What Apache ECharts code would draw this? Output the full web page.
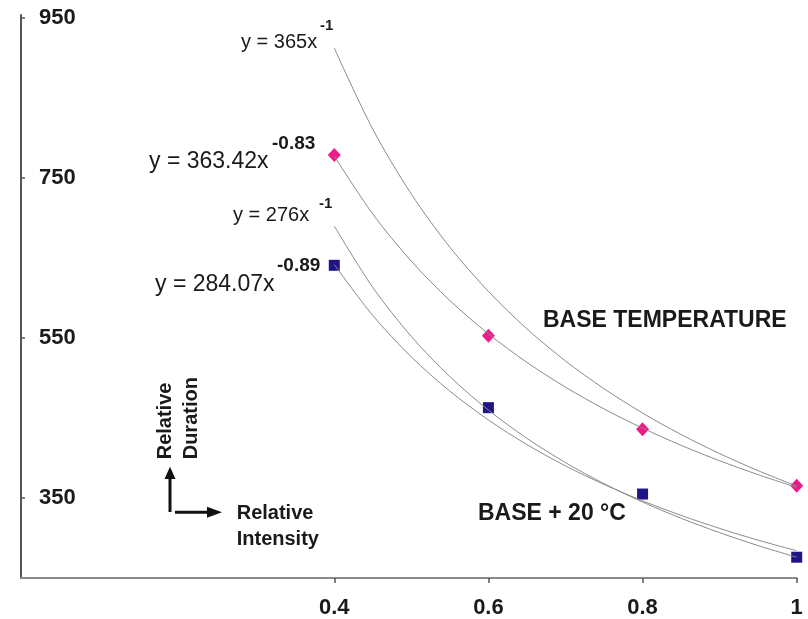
<!DOCTYPE html>
<html>
<head>
<meta charset="utf-8" />
<title>Relative Duration vs Relative Intensity</title>
<script src="https://cdn.jsdelivr.net/npm/echarts@6/dist/echarts.min.js"></script>
<style>
  html, body { margin: 0; padding: 0; background: #fff; }
  #chart { width: 808px; height: 619px; }
</style>
</head>
<body>
<div id="chart"></div>
<script type="text/javascript">
// measured points
var intensity = [0.4, 0.6, 0.8, 1];
var baseTemp = [779, 553, 436, 365.5];
var base20 = [641, 463, 355, 276];

// trend lines at 0.05 steps
var trendX = [0.4, 0.45, 0.5, 0.55, 0.6, 0.65, 0.7, 0.75, 0.8, 0.85, 0.9, 0.95, 1];
var trendBase365 = [912.5, 811.1, 730, 663.6, 608.3, 561.5, 521.4, 486.7, 456.3, 429.4, 405.6, 384.2, 365];
var trendBaseFit = [777.5, 705.1, 646.1, 596.9, 555.3, 519.6, 488.6, 461.4, 437.4, 415.9, 396.6, 379.2, 363.4];
var trend276 = [690, 613.3, 552, 501.8, 460, 424.6, 394.3, 368, 345, 324.7, 306.7, 290.5, 276];
var trend20Fit = [642, 578.2, 526.4, 483.6, 447.6, 416.8, 390.2, 367, 346.5, 328.3, 312, 297.3, 284.1];

var xTicks = [0.4, 0.6, 0.8, 1];
var yTicks = [350, 550, 750, 950];

var FONT = '"Liberation Sans", Arial, sans-serif';
var INK = '#1a1a1a';

function pairs(xs, ys) {
  return xs.map(function (x, i) { return [x, ys[i]]; });
}

function trend(name, ys) {
  return {
    name: name,
    type: 'line',
    data: pairs(trendX, ys),
    smooth: 0.3,
    showSymbol: false,
    lineStyle: { color: '#8a8a8a', width: 1 },
    z: 3
  };
}

function label(x, y, text, size, bold) {
  return {
    type: 'text',
    x: x,
    y: y,
    style: {
      text: text,
      font: (bold ? 'bold ' : '') + size + 'px ' + FONT,
      fill: INK,
      textAlign: 'left',
      textVerticalAlign: 'middle'
    }
  };
}

function vlabel(x, y, text, size) {
  var g = label(x, y, text, size, true);
  g.rotation = Math.PI / 2;
  return g;
}

var myChart = echarts.init(document.getElementById('chart'));

var option = {
  animation: false,
  grid: { left: 21, right: 11.3, top: 15, bottom: 39.7 },
  xAxis: {
    type: 'value',
    min: -0.0065,
    max: 1,
    splitLine: { show: false },
    axisLine: { onZero: false, lineStyle: { color: '#8c8c8c', width: 2 } },
    axisTick: { customValues: xTicks, length: 5, lineStyle: { color: '#555', width: 1.5 } },
    axisLabel: {
      customValues: xTicks,
      margin: 19,
      fontSize: 22,
      fontWeight: 'bold',
      fontFamily: FONT,
      color: INK
    }
  },
  yAxis: {
    type: 'value',
    min: 250,
    max: 954,
    splitLine: { show: false },
    axisLine: { show: true, onZero: false, lineStyle: { color: '#555', width: 2 } },
    axisTick: { show: true, inside: true, customValues: yTicks, length: 4, lineStyle: { color: '#555', width: 1.5 } },
    axisLabel: {
      inside: true,
      customValues: yTicks,
      margin: 18,
      fontSize: 22,
      fontWeight: 'bold',
      fontFamily: FONT,
      color: INK
    }
  },
  series: [
    {
      name: 'BASE TEMPERATURE',
      type: 'scatter',
      data: pairs(intensity, baseTemp),
      symbol: 'diamond',
      symbolSize: [13, 14],
      itemStyle: { color: '#ee1a8a', opacity: 1 },
      z: 2
    },
    {
      name: 'BASE + 20 °C',
      type: 'scatter',
      data: pairs(intensity, base20),
      symbol: 'rect',
      symbolSize: 11,
      itemStyle: { color: '#1f1587', opacity: 1 },
      z: 2
    },
    trend('y = 365x^-1', trendBase365),
    trend('y = 363.42x^-0.83', trendBaseFit),
    trend('y = 276x^-1', trend276),
    trend('y = 284.07x^-0.89', trend20Fit)
  ],
  graphic: [
    label(241, 42.7, 'y = 365x', 20, false),
    label(320, 25.4, '-1', 15, true),
    label(149, 161.7, 'y = 363.42x', 23, false),
    label(272, 144, '-0.83', 19, true),
    label(233, 215, 'y = 276x', 20, false),
    label(319, 204, '-1', 15, true),
    label(155, 285, 'y = 284.07x', 23, false),
    label(277, 266, '-0.89', 19, true),
    label(543, 320.8, 'BASE TEMPERATURE', 23, true),
    label(478, 513.3, 'BASE + 20 °C', 23, true),
    label(236.7, 513.3, 'Relative', 20, true),
    label(236.7, 539.2, 'Intensity', 20, true),
    vlabel(165.5, 459.3, 'Relative', 20),
    vlabel(191.8, 459.3, 'Duration', 20),
    // direction arrows
    { type: 'line', shape: { x1: 170, y1: 512, x2: 170, y2: 477 }, style: { stroke: '#111', lineWidth: 3 } },
    { type: 'polygon', shape: { points: [[170, 466.7], [164.5, 479], [175.5, 479]] }, style: { fill: '#111' } },
    { type: 'line', shape: { x1: 175, y1: 512.3, x2: 210, y2: 512.3 }, style: { stroke: '#111', lineWidth: 3 } },
    { type: 'polygon', shape: { points: [[222, 512.3], [207, 506.8], [207, 517.8]] }, style: { fill: '#111' } }
  ]
};

myChart.setOption(option);
</script>
</body>
</html>
